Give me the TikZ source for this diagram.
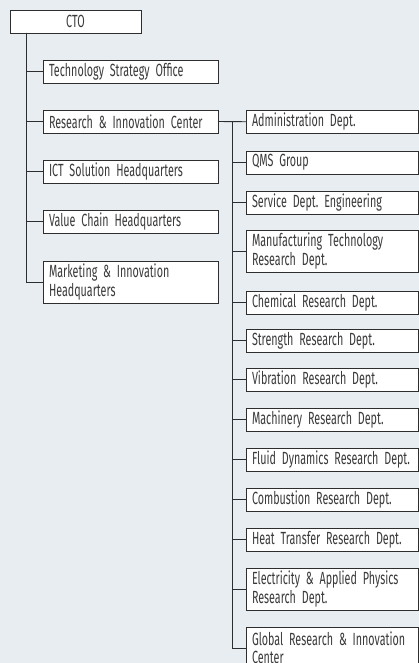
\documentclass[tikz,border=0pt]{standalone}
\usepackage{fontspec}
\setmainfont{Fira Sans}[FakeStretch=0.61]
\frenchspacing
\usepackage{xcolor}
\definecolor{bgblue}{HTML}{E7EDF1}
\definecolor{boxline}{HTML}{2E2E2E}
\definecolor{boxtext}{HTML}{3A3A3A}
\newcommand{\orgfont}{\fontsize{17.6}{18.3}\selectfont
    \fontdimen2\font=3.3pt \fontdimen3\font=0pt \fontdimen4\font=0pt}

\begin{document}
\begin{tikzpicture}[x=1pt, y=-1pt]
\tikzstyle{org}=[draw=boxline, fill=white, line width=0.9pt, anchor=north west, outer sep=0pt,
    inner xsep=6pt, inner ysep=3pt, align=left, text=boxtext,
    font=\orgfont, minimum height=23pt]
\tikzstyle{top}=[org, text width=119pt, align=center]
\tikzstyle{hq}=[org, text width=163pt]
\tikzstyle{dept}=[org, text width=160.5pt]
\tikzstyle{twoline}=[minimum height=42pt]
\tikzstyle{link}=[draw=boxline, line width=0.9pt]
\fill[bgblue] (0,0) rectangle (419,663);
\useasboundingbox (0,0) rectangle (419,663);
\node[top] (cto) at (10,10) {CTO};
\node[hq] (tso) at (43,60) {Technology Strategy Office};
\node[hq] (ric) at (43,110) {Research \& Innovation Center};
\node[hq] (ict) at (43,160) {ICT Solution Headquarters};
\node[hq] (vch) at (43,210) {Value Chain Headquarters};
\node[hq, twoline] (mih) at (43,261) {Marketing \& Innovation\\Headquarters};
\node[dept] (adm) at (246,110) {Administration Dept.};
\node[dept] (qms) at (246,151) {QMS Group};
\node[dept] (sde) at (246,191) {Service Dept. Engineering};
\node[dept, twoline] (mtr) at (246,230) {Manufacturing Technology\\Research Dept.};
\node[dept] (chr) at (246,291) {Chemical Research Dept.};
\node[dept] (str) at (246,329) {Strength Research Dept.};
\node[dept] (vib) at (246,368) {Vibration Research Dept.};
\node[dept] (mac) at (246,408) {Machinery Research Dept.};
\node[dept] (fld) at (246,448) {Fluid Dynamics Research Dept.};
\node[dept] (cmb) at (246,488) {Combustion Research Dept.};
\node[dept] (htr) at (246,528) {Heat Transfer Research Dept.};
\node[dept, twoline] (eap) at (246,568) {Electricity \& Applied Physics\\Research Dept.};
\node[dept, twoline] (gric) at (246,627) {Global Research \& Innovation\\Center};
\coordinate (ctotrunk) at (26,33);
\coordinate (rictrunk) at (232.5,121.5);
\foreach \n in {tso,ric,ict,vch,mih}
    \draw[link] (ctotrunk) |- (\n.west);
\draw[link] (ric.east) -- (adm.west);
\foreach \n in {qms,sde,mtr,chr,str,vib,mac,fld,cmb,htr,eap,gric}
    \draw[link] (rictrunk) |- (\n.west);
\end{tikzpicture}
\end{document}
